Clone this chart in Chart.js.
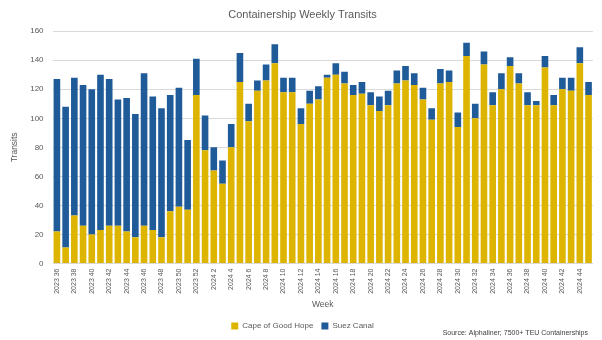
<!DOCTYPE html>
<html>
<head>
<meta charset="utf-8">
<script src="https://cdn.jsdelivr.net/npm/chart.js@4.4.1/dist/chart.umd.min.js"></script>
<style>
  html, body { margin: 0; padding: 0; background: #fff; }
  #wrap { width: 602px; height: 340px; }
</style>
</head>
<body>
<div id="wrap"><canvas id="transitChart"></canvas></div>
<script>
// weeks: 2023 wk36-52, then 2024 wk1-45
const weeks2023 = [36, 37, 38, 39, 40, 41, 42, 43, 44, 45, 46, 47, 48, 49, 50, 51, 52];
const weeks2024 = [1, 2, 3, 4, 5, 6, 7, 8, 9, 10, 11, 12, 13, 14, 15, 16, 17, 18, 19, 20,
    21, 22, 23, 24, 25, 26, 27, 28, 29, 30, 31, 32, 33, 34, 35, 36, 37, 38, 39, 40,
    41, 42, 43, 44, 45];

// Cape of Good Hope transits per week
const capeTransits = [22, 11, 33, 26, 20, 23, 26, 26, 22, 18, 26, 23, 18, 36, 39, 37, 116,
    78, 64, 55, 80, 125, 98, 119, 126, 138, 118, 118, 96, 110, 113,
    128, 130, 124, 116, 117, 109, 105, 109, 124, 126,
    123, 113, 99, 124, 125, 94, 143, 100, 137, 109,
    120, 136, 124, 109, 109, 135, 109, 120, 119, 138, 116];

// Suez Canal transits per week
const suezTransits = [105, 97, 95, 97, 100, 107, 101, 87, 92, 85, 105, 92, 89, 80, 82, 48, 25,
    24, 16, 16, 16, 20, 12, 7, 11, 13, 10, 10, 11, 9, 9,
    2, 8, 8, 7, 8, 9, 10, 10, 9, 10,
    8, 8, 8, 10, 8, 10, 9, 10, 9, 9,
    11, 6, 7, 9, 3, 8, 7, 8, 9, 11, 9];

const weekLabels = weeks2023.map(w => '2023 ' + w).concat(weeks2024.map(w => '2024 ' + w));

const FONT = '"Liberation Sans", Arial, sans-serif';
const GREY = '#595959';

// source note, bottom right
const sourceNote = {
    id: 'sourceNote',
    afterDraw(chart) {
        const ctx = chart.ctx;
        ctx.save();
        ctx.font = '7px ' + FONT;
        ctx.fillStyle = '#404040';
        ctx.textAlign = 'right';
        ctx.textBaseline = 'middle';
        ctx.fillText('Source: Alphaliner; 7500+ TEU Containerships', chart.width - 14, chart.height - 7);
        ctx.restore();
    }
};

new Chart(document.getElementById('transitChart'), {
    type: 'bar',
    data: {
        labels: weekLabels,
        datasets: [{
            label: 'Cape of Good Hope',
            data: capeTransits,
            backgroundColor: '#DDB400',
            barPercentage: 0.76,
            categoryPercentage: 1.0
        }, {
            label: 'Suez Canal',
            data: suezTransits,
            backgroundColor: '#1F5B99',
            barPercentage: 0.76,
            categoryPercentage: 1.0
        }]
    },
    options: {
        responsive: true,
        maintainAspectRatio: false,
        animation: false,
        layout: { padding: { left: 10, right: 7, top: 2, bottom: 0 } },
        plugins: {
            title: {
                display: true,
                text: 'Containership Weekly Transits',
                color: GREY,
                font: { family: FONT, size: 11, weight: 'normal' },
                padding: { top: 6, bottom: 10 }
            },
            legend: {
                position: 'bottom',
                labels: {
                    color: GREY,
                    font: { family: FONT, size: 8 },
                    boxWidth: 7,
                    boxHeight: 7,
                    padding: 8
                }
            },
            tooltip: { enabled: false }
        },
        scales: {
            x: {
                stacked: true,
                grid: { display: false, drawTicks: false },
                border: { display: false },
                ticks: {
                    color: GREY,
                    font: { family: FONT, size: 7 },
                    autoSkip: false,
                    minRotation: 90,
                    maxRotation: 90,
                    padding: 5,
                    callback: function (val, i) {
                        return i % 2 === 0 ? this.getLabelForValue(val) : '';
                    }
                },
                title: {
                    display: true,
                    text: 'Week',
                    color: GREY,
                    font: { family: FONT, size: 8.5 },
                    padding: { top: 1, bottom: 4 }
                }
            },
            y: {
                stacked: true,
                min: 0,
                max: 160,
                grid: { color: '#D9D9D9', drawTicks: false },
                border: { display: false },
                ticks: {
                    stepSize: 20,
                    color: GREY,
                    font: { family: FONT, size: 8 },
                    padding: 9
                },
                title: {
                    display: true,
                    text: 'Transits',
                    color: GREY,
                    font: { family: FONT, size: 8.5 },
                    padding: { top: 0, bottom: 1 }
                }
            }
        }
    },
    plugins: [sourceNote]
});
</script>
</body>
</html>
